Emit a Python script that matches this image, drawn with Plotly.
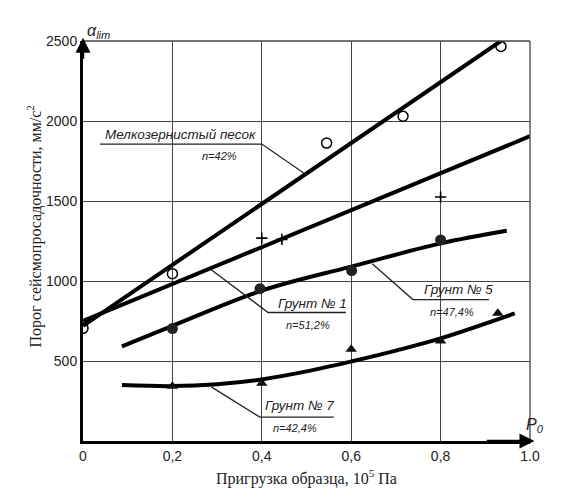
import plotly.graph_objects as go

# ---- data ----
# Мелкозернистый песок (open circles) + fitted line
sand_x = [0.0, 0.2, 0.545, 0.716, 0.935]
sand_y = [704, 1046, 1862, 2030, 2466]
sand_fit_x = [0.0, 0.935]
sand_fit_y = [720, 2500]

# Грунт № 1 (crosses) + fitted line
g1_x = [0.4, 0.445, 0.8]
g1_y = [1268, 1260, 1525]
g1_fit_x = [0.0, 1.0]
g1_fit_y = [750, 1905]

# Грунт № 5 (filled circles) + curve
g5_x = [0.2, 0.396, 0.601, 0.8]
g5_y = [703, 952, 1065, 1257]
g5_fit_x = [0.087, 0.2, 0.4, 0.6, 0.8, 0.948]
g5_fit_y = [592, 720, 940, 1090, 1235, 1314]

# Грунт № 7 (triangles) + curve
g7_x = [0.2, 0.4, 0.6, 0.8, 0.928]
g7_y = [342, 361, 573, 625, 799]
g7_fit_x = [0.087, 0.2, 0.3, 0.4, 0.5, 0.6, 0.7, 0.8, 0.966]
g7_fit_y = [350, 343, 355, 385, 435, 497, 565, 641, 797]

x_ticks = [0, 0.2, 0.4, 0.6, 0.8, 1.0]
x_ticktext = ["0", "0,2", "0,4", "0,6", "0,8", "1.0"]
y_ticks = [500, 1000, 1500, 2000, 2500]

SANS = "Liberation Sans, Arial, sans-serif"
SERIF = "Liberation Serif, Times New Roman, serif"
LW = 4
GRID = "#444"

fig = go.Figure()

# top and right frame lines (grid at 2500 and 1.0)
fig.add_shape(type="line", xref="paper", yref="paper", x0=0, x1=1, y0=1, y1=1,
              line=dict(color=GRID, width=1.3))
fig.add_shape(type="line", xref="paper", yref="paper", x0=1, x1=1, y0=0, y1=1,
              line=dict(color=GRID, width=1.3))

for fx, fy, shape in [(sand_fit_x, sand_fit_y, "linear"), (g1_fit_x, g1_fit_y, "linear"),
                      (g5_fit_x, g5_fit_y, "spline"), (g7_fit_x, g7_fit_y, "spline")]:
    fig.add_trace(go.Scatter(x=fx, y=fy, mode="lines", line=dict(color="black", width=LW, shape=shape),
                             showlegend=False, hoverinfo="skip", cliponaxis=False))

fig.add_trace(go.Scatter(x=sand_x, y=sand_y, mode="markers", showlegend=False,
                         marker=dict(symbol="circle-open", size=10, color="black", line=dict(width=1.5))))
fig.add_trace(go.Scatter(x=g1_x, y=g1_y, mode="markers", showlegend=False,
                         marker=dict(symbol="cross-thin-open", size=8, color="black", line=dict(width=1.6, color="black"))))
fig.add_trace(go.Scatter(x=g5_x, y=g5_y, mode="markers", showlegend=False,
                         marker=dict(symbol="circle", size=11, color="#222")))
fig.add_trace(go.Scatter(x=g7_x, y=g7_y, mode="markers", showlegend=False,
                         marker=dict(symbol="triangle-up", size=10, color="#111")))

# leader lines for labels
leaders = [
    [(0.038, 1856), (0.400, 1856), (0.497, 1669)],
    [(0.284, 1077), (0.414, 803), (0.588, 803)],
    [(0.647, 1108), (0.738, 884), (0.908, 884)],
    [(0.287, 338), (0.396, 149), (0.561, 149)],
]
for pts in leaders:
    path = "M " + " L ".join(f"{px},{py}" for px, py in pts)
    fig.add_shape(type="path", path=path, xref="x", yref="y", line=dict(color="#222", width=1.3))

labels = [
    ("Мелкозернистый песок", 0.219, 1918, 13.5),
    ("n=42%", 0.306, 1781, 11),
    ("Грунт № 1", 0.513, 861, 13.5),
    ("n=51,2%", 0.504, 728, 11),
    ("Грунт № 5", 0.841, 945, 13.5),
    ("n=47,4%", 0.826, 809, 11),
    ("Грунт № 7", 0.485, 224, 13.5),
    ("n=42,4%", 0.475, 81, 11),
]
for t, lx, ly, fs in labels:
    fig.add_annotation(x=lx, y=ly, xref="x", yref="y", text=f"<i>{t}</i>", showarrow=False,
                       font=dict(family=SANS, size=fs, color="#222"))

# axis arrows
fig.add_annotation(x=0, y=2520, ax=0, ay=2380, xref="x", yref="y", axref="x", ayref="y",
                   text="", showarrow=True, arrowhead=2, arrowsize=1.2, arrowwidth=2.5, arrowcolor="black")
fig.add_annotation(x=1.01, y=0, ax=0.9, ay=0, xref="x", yref="y", axref="x", ayref="y",
                   text="", showarrow=True, arrowhead=2, arrowsize=1.2, arrowwidth=2.5, arrowcolor="black")

# axis symbols
fig.add_annotation(x=0.005, y=1.0525, xref="paper", yref="paper", showarrow=False,
                   text="<i>α</i><sub><i>lim</i></sub>", font=dict(family=SANS, size=16, color="#222"))
fig.add_annotation(x=1.036, y=0.01, xref="paper", yref="paper", showarrow=False,
                   text="<i>P</i><sub><i>0</i></sub>", font=dict(family=SANS, size=16, color="#222"))

# axis titles
fig.add_annotation(x=-0.1365, y=0.5375, xref="paper", yref="paper", showarrow=False, textangle=-90,
                   text="Порог сейсмопросадочности, мм/с<sup>2</sup>",
                   font=dict(family=SERIF, size=16, color="#222"))
fig.add_annotation(x=0.5, y=-0.123, xref="paper", yref="paper", showarrow=False,
                   text="Пригрузка образца, 10<sup>5</sup> Па",
                   font=dict(family=SERIF, size=16, color="#222"))

fig.update_xaxes(range=[0, 1.0], tickvals=x_ticks, ticktext=x_ticktext, showgrid=True,
                 gridcolor=GRID, gridwidth=1.3, showline=True, linecolor="black", linewidth=3,
                 zeroline=False, ticks="", tickfont=dict(family=SANS, size=14, color="#222"))
fig.update_yaxes(range=[0, 2500], tickvals=y_ticks, showgrid=True,
                 gridcolor=GRID, gridwidth=1.3, showline=True, linecolor="black", linewidth=3,
                 zeroline=False, ticks="", tickfont=dict(family=SANS, size=14, color="#222"))

fig.update_layout(width=561, height=504, margin=dict(l=83, r=31, t=41, b=63),
                  plot_bgcolor="white", paper_bgcolor="white", showlegend=False)

fig.write_html("out.html")
